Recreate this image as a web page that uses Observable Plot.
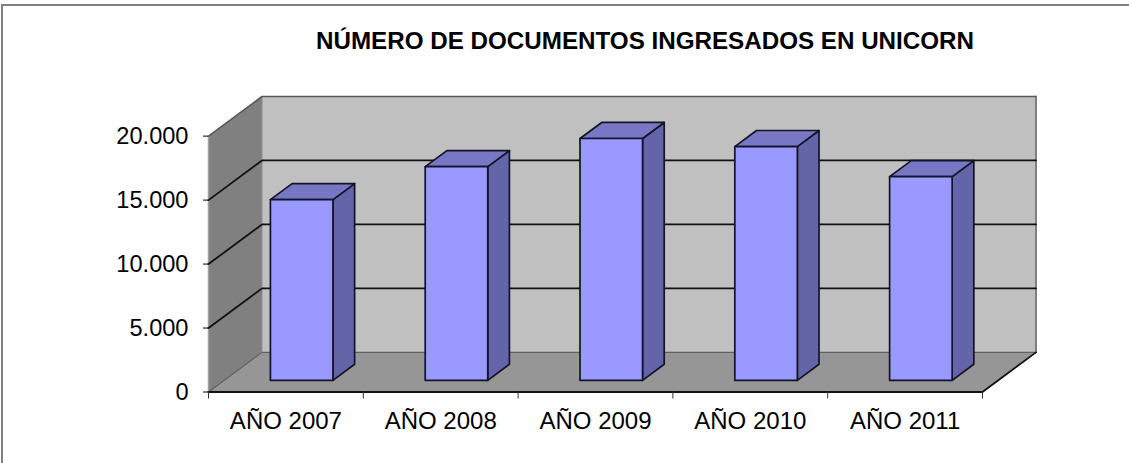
<!DOCTYPE html>
<html><head><meta charset="utf-8">
<script src="https://cdn.jsdelivr.net/npm/d3@7"></script>
<script src="https://cdn.jsdelivr.net/npm/@observablehq/plot@0.6"></script>
<style>
html,body{margin:0;padding:0;background:#fff;overflow:hidden}
#chart{position:relative;width:1129px;height:463px}
#chart svg{position:absolute;left:0;top:0}
#frame{position:absolute;left:1px;top:4px;right:0;bottom:0;border-top:2px solid #808080;border-left:2px solid #808080}
</style></head><body>
<div id="chart"><div id="frame"></div></div>
<script>
const categories = ["AÑO 2007","AÑO 2008","AÑO 2009","AÑO 2010","AÑO 2011"];
const documentos = [14120, 16700, 18900, 18270, 15920];
const yTicks = [0, 5000, 10000, 15000, 20000];
const gridValues = [5000, 10000, 15000];
const title = "NÚMERO DE DOCUMENTOS INGRESADOS EN UNICORN";

// Oblique projection of the depth axis, in data units
const n = categories.length, yMax = 20000;
const depthX = 0.3456, depthY = 3098;
const barW = 0.404, barFrom = 0.295, barDepth = 0.405;
const at = (x, y, d = 0) => ({x: x + d * depthX, y: y + d * depthY});
const fmt = d3.formatLocale({decimal: ",", thousands: ".", grouping: [3], currency: ["", ""]}).format(",");

const face = (pts, fill, stroke, strokeWidth) =>
  Plot.line(pts, {x: "x", y: "y", curve: "linear-closed", fill, stroke, strokeWidth, strokeLinejoin: "round"});
const seg = (pts, stroke, strokeWidth) =>
  Plot.line(pts, {x: "x", y: "y", stroke, strokeWidth, strokeLinecap: "round", strokeLinejoin: "round"});

const marks = [
  // walls and floor
  face([at(0, 0, 1), at(n, 0, 1), at(n, yMax, 1), at(0, yMax, 1)], "#c0c0c0", "none", 0),
  face([at(0, 0), at(0, 0, 1), at(0, yMax, 1), at(0, yMax)], "#808080", "none", 0),
  face([at(0, 0), at(n, 0), at(n, 0, 1), at(0, 0, 1)], "#969696", "none", 0),
  seg([at(0, 0), at(0, yMax)], "#a0a0a0", 1.5),
  seg([at(0, 0, 1), at(0, yMax, 1)], "#8a8a8a", 1),
  seg([at(n, 0, 1), at(n, yMax, 1)], "#808080", 2),
  seg([at(0, yMax), at(0, yMax, 1), at(n, yMax, 1)], "#595959", 1.6),
  seg([at(0, 0), at(0, 0, 1), at(n, 0, 1)], "#606060", 1.2),
  // grid
  ...gridValues.map(v => seg([at(0, v), at(0, v, 1), at(n, v, 1)], "#111", 1.8)),
  seg([at(0, 0), at(n, 0), at(n, 0, 1)], "#111", 1.8)
];

// bars
documentos.forEach((v, i) => {
  const x0 = i + (1 - barW) / 2, x1 = x0 + barW, d0 = barFrom, d1 = barFrom + barDepth;
  marks.push(
    face([at(x1, 0, d0), at(x1, 0, d1), at(x1, v, d1), at(x1, v, d0)], "#6464a8", "#141428", 1.7),
    face([at(x0, v, d0), at(x1, v, d0), at(x1, v, d1), at(x0, v, d1)], "#7777c6", "#141428", 1.7),
    face([at(x0, 0, d0), at(x1, 0, d0), at(x1, v, d0), at(x0, v, d0)], "#9999ff", "#141428", 1.7)
  );
});

marks.push(
  Plot.axisY({ticks: yTicks, tickFormat: fmt, tickSize: 5, tickPadding: 15, fontSize: 23.6, label: null, stroke: "#000"}),
  Plot.axisX({ticks: d3.range(n + 1), tickFormat: () => "", tickSize: 7, label: null, stroke: "#333"}),
  Plot.axisX({ticks: categories.map((c, i) => i + 0.5), tickFormat: x => categories[Math.floor(x)], tickSize: 0, tickPadding: 20, fontSize: 24, label: null}),
  Plot.text([title], {text: d => d, frameAnchor: "top-left", dx: 436.5, dy: -65, textAnchor: "middle", fontWeight: "bold", fontSize: 24.2, fill: "#000"})
);

const chart = Plot.plot({
  width: 1129, height: 463,
  marginLeft: 208, marginRight: 93.5, marginTop: 96, marginBottom: 71.5,
  x: {domain: [0, n + depthX], axis: null},
  y: {domain: [0, yMax + depthY], axis: null},
  style: {fontFamily: "'Liberation Sans', Arial, sans-serif", background: "transparent", color: "#000"},
  marks
});
document.getElementById("chart").appendChild(chart);
</script>
</body></html>
